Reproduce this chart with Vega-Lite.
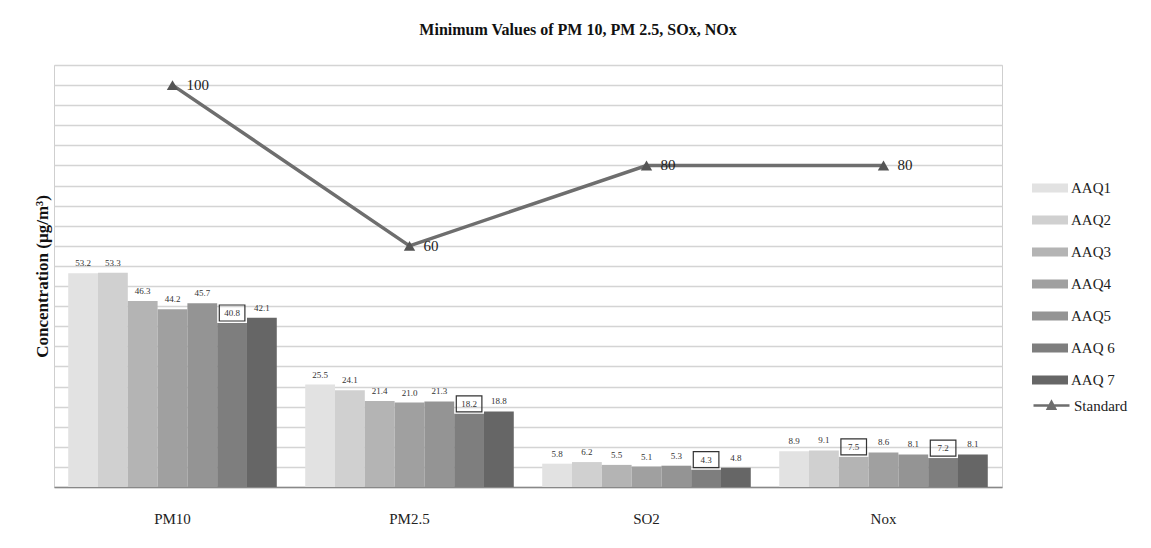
{
  "$schema": "https://vega.github.io/schema/vega-lite/v6.json",
  "autosize": {"type": "none"},
  "width": 948,
  "height": 422,
  "padding": {"left": 54, "top": 65, "right": 149, "bottom": 61},
  "background": "white",
  "config": {
    "font": "Liberation Serif",
    "view": {"stroke": "#cfcfcf", "strokeWidth": 1},
    "axis": {"labelFont": "Liberation Serif", "titleFont": "Liberation Serif"},
    "legend": {"labelFont": "Liberation Serif"},
    "text": {"font": "Liberation Serif"}
  },
  "title": {
    "text": "Minimum Values of PM 10, PM 2.5, SOx, NOx",
    "font": "Liberation Serif",
    "fontSize": 16,
    "fontWeight": "bold",
    "color": "#111",
    "anchor": "middle",
    "dx": 50,
    "offset": 27
  },
  "datasets": {
    "bars": [
      {"Category": "PM10", "Series": "AAQ1", "Value": 53.2, "Min": false},
      {"Category": "PM10", "Series": "AAQ2", "Value": 53.3, "Min": false},
      {"Category": "PM10", "Series": "AAQ3", "Value": 46.3, "Min": false},
      {"Category": "PM10", "Series": "AAQ4", "Value": 44.2, "Min": false},
      {"Category": "PM10", "Series": "AAQ5", "Value": 45.7, "Min": false},
      {"Category": "PM10", "Series": "AAQ 6", "Value": 40.8, "Min": true},
      {"Category": "PM10", "Series": "AAQ 7", "Value": 42.1, "Min": false},
      {"Category": "PM2.5", "Series": "AAQ1", "Value": 25.5, "Min": false},
      {"Category": "PM2.5", "Series": "AAQ2", "Value": 24.1, "Min": false},
      {"Category": "PM2.5", "Series": "AAQ3", "Value": 21.4, "Min": false},
      {"Category": "PM2.5", "Series": "AAQ4", "Value": 21.0, "Min": false},
      {"Category": "PM2.5", "Series": "AAQ5", "Value": 21.3, "Min": false},
      {"Category": "PM2.5", "Series": "AAQ 6", "Value": 18.2, "Min": true},
      {"Category": "PM2.5", "Series": "AAQ 7", "Value": 18.8, "Min": false},
      {"Category": "SO2", "Series": "AAQ1", "Value": 5.8, "Min": false},
      {"Category": "SO2", "Series": "AAQ2", "Value": 6.2, "Min": false},
      {"Category": "SO2", "Series": "AAQ3", "Value": 5.5, "Min": false},
      {"Category": "SO2", "Series": "AAQ4", "Value": 5.1, "Min": false},
      {"Category": "SO2", "Series": "AAQ5", "Value": 5.3, "Min": false},
      {"Category": "SO2", "Series": "AAQ 6", "Value": 4.3, "Min": true},
      {"Category": "SO2", "Series": "AAQ 7", "Value": 4.8, "Min": false},
      {"Category": "Nox", "Series": "AAQ1", "Value": 8.9, "Min": false},
      {"Category": "Nox", "Series": "AAQ2", "Value": 9.1, "Min": false},
      {"Category": "Nox", "Series": "AAQ3", "Value": 7.5, "Min": true},
      {"Category": "Nox", "Series": "AAQ4", "Value": 8.6, "Min": false},
      {"Category": "Nox", "Series": "AAQ5", "Value": 8.1, "Min": false},
      {"Category": "Nox", "Series": "AAQ 6", "Value": 7.2, "Min": true},
      {"Category": "Nox", "Series": "AAQ 7", "Value": 8.1, "Min": false}
    ],
    "standard": [
      {"Category": "PM10", "Value": 100, "Series": "Standard"},
      {"Category": "PM2.5", "Value": 60, "Series": "Standard"},
      {"Category": "SO2", "Value": 80, "Series": "Standard"},
      {"Category": "Nox", "Value": 80, "Series": "Standard"}
    ]
  },
  "encoding": {
    "x": {
      "field": "Category",
      "type": "nominal",
      "sort": ["PM10", "PM2.5", "SO2", "Nox"],
      "scale": {"paddingInner": 0.12, "paddingOuter": 0.06},
      "axis": {
        "title": null,
        "labelAngle": 0,
        "labelFont": "Liberation Serif",
        "labelFontSize": 15,
        "labelColor": "#222",
        "labelPadding": 24,
        "ticks": false,
        "domainColor": "#888",
        "domainWidth": 1.5
      }
    },
    "y": {
      "field": "Value",
      "type": "quantitative",
      "scale": {"domain": [0, 105], "nice": false},
      "axis": {
        "title": "Concentration (µg/m³)",
        "titleFont": "Liberation Serif",
        "titleFontSize": 17,
        "titleFontWeight": "bold",
        "titleColor": "#111",
        "titlePadding": 3,
        "labels": false,
        "ticks": false,
        "domain": false,
        "values": [0,5,10,15,20,25,30,35,40,45,50,55,60,65,70,75,80,85,90,95,100,105],
        "gridColor": "#d4d4d4",
        "gridWidth": 1.5
      }
    }
  },
  "layer": [
    {
      "data": {"name": "bars"},
      "mark": {"type": "bar"},
      "encoding": {
        "xOffset": {"field": "Series", "type": "nominal", "sort": ["AAQ1","AAQ2","AAQ3","AAQ4","AAQ5","AAQ 6","AAQ 7"], "scale": {"paddingInner": 0, "paddingOuter": 0}},
        "color": {
          "field": "Series",
          "type": "nominal",
          "scale": {
            "domain": ["AAQ1","AAQ2","AAQ3","AAQ4","AAQ5","AAQ 6","AAQ 7"],
            "range": ["#e2e2e2","#d0d0d0","#b4b4b4","#a0a0a0","#949494","#7e7e7e","#666666"]
          },
          "legend": {
            "title": null,
            "orient": "none",
            "legendX": 987,
            "legendY": 114,
            "symbolType": "M-2,-0.5L2,-0.5L2,0.5L-2,0.5Z",
            "symbolSize": 324,
            "symbolStrokeWidth": 0,
            "labelFont": "Liberation Serif",
            "labelFontSize": 15,
            "labelColor": "#222",
            "labelOffset": 12,
            "rowPadding": 15
          }
        }
      }
    },
    {
      "data": {"name": "bars"},
      "mark": {"type": "text", "baseline": "bottom", "dy": -5, "fontSize": 9, "color": "#333", "font": "Liberation Serif"},
      "encoding": {
        "xOffset": {"field": "Series", "type": "nominal", "sort": ["AAQ1","AAQ2","AAQ3","AAQ4","AAQ5","AAQ 6","AAQ 7"]},
        "text": {"field": "Value", "type": "quantitative", "format": ".1f"}
      }
    },
    {
      "data": {"name": "bars"},
      "transform": [{"filter": "datum.Min"}],
      "mark": {"type": "point", "shape": "M-1.6,-1L1.6,-1L1.6,1L-1.6,1Z", "size": 256, "filled": false, "stroke": "#333", "strokeWidth": 1.2, "yOffset": -10, "opacity": 1},
      "encoding": {
        "xOffset": {"field": "Series", "type": "nominal", "sort": ["AAQ1","AAQ2","AAQ3","AAQ4","AAQ5","AAQ 6","AAQ 7"]}
      }
    },
    {
      "data": {"name": "standard"},
      "mark": {"type": "line", "strokeWidth": 3.5},
      "encoding": {
        "color": {
          "field": "Series",
          "type": "nominal",
          "scale": {"domain": ["Standard"], "range": ["#6e6e6e"]},
          "legend": {
            "title": null,
            "orient": "none",
            "legendX": 987,
            "legendY": 330,
            "symbolType": "M-2,0L2,0M-0.4,0.35L0,-0.4L0.4,0.35Z",
            "symbolSize": 324,
            "symbolStrokeWidth": 2.5,
            "symbolFillColor": "#6e6e6e",
            "labelFont": "Liberation Serif",
            "labelFontSize": 15,
            "labelColor": "#222",
            "labelOffset": 12
          }
        }
      }
    },
    {
      "data": {"name": "standard"},
      "mark": {"type": "point", "shape": "triangle-up", "filled": true, "size": 130, "color": "#555555", "opacity": 1}
    },
    {
      "data": {"name": "standard"},
      "mark": {"type": "text", "align": "left", "baseline": "middle", "dx": 14, "fontSize": 15, "color": "#222", "font": "Liberation Serif"},
      "encoding": {"text": {"field": "Value", "type": "quantitative"}}
    }
  ],
  "resolve": {"scale": {"color": "independent"}}
}
